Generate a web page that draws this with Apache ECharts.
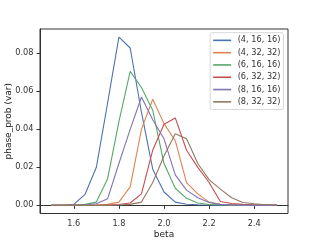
<!DOCTYPE html>
<html><head><meta charset="utf-8">
<script src="https://cdn.jsdelivr.net/npm/echarts@6/dist/echarts.min.js"></script>
<style>html,body{margin:0;padding:0;background:#fff}#c{width:320px;height:240px}</style>
</head><body><div id="c"></div>
<script>
const betas = [1.5,1.55,1.6,1.65,1.7,1.75,1.8,1.85,1.9,1.95,2.0,2.05,2.1,2.15,2.2,2.25,2.3,2.35,2.4,2.45,2.5];
const seriesNames = ['(4, 16, 16)','(4, 32, 32)','(6, 16, 16)','(6, 32, 32)','(8, 16, 16)','(8, 32, 32)'];
const s4_16 = [0,0,0.0005,0.0058,0.020,0.054,0.0885,0.0828,0.049,0.019,0.007,0.0017,0.0006,0.0003,0.0002,0.0001,0.0001,0,0,0,0];
const s4_32 = [0,0,0,0,0.0001,0.0005,0.0017,0.0097,0.040,0.0558,0.043,0.034,0.012,0.006,0.0017,0.0005,0.0003,0.0001,0.0001,0,0];
const s6_16 = [0,0,0.0001,0.0005,0.0017,0.014,0.044,0.0705,0.062,0.050,0.022,0.009,0.0037,0.0012,0.0004,0.0002,0.0001,0,0,0,0];
const s6_32 = [0,0,0,0,0,0.0002,0.0004,0.0012,0.006,0.029,0.0427,0.046,0.029,0.020,0.012,0.002,0.001,0.0005,0.0002,0.0001,0];
const s8_16 = [0,0,0,0.0002,0.0008,0.0035,0.022,0.040,0.057,0.045,0.035,0.016,0.008,0.004,0.0015,0.0005,0.0002,0.0001,0,0,0];
const s8_32 = [0,0,0,0,0,0,0.0002,0.0005,0.0017,0.012,0.026,0.0377,0.035,0.022,0.0135,0.0085,0.004,0.0015,0.0008,0.0003,0.0001];
const xTicks = [1.6,1.8,2.0,2.2,2.4];
const yTicks = [0,0.02,0.04,0.06,0.08];
const allValues = [s4_16,s4_32,s6_16,s6_32,s8_16,s8_32];
const colors = ['#4c72b0','#dd8452','#55a868','#c44e52','#8172b3','#937860'];
const font = 'DejaVu Sans';
const chart = echarts.init(document.getElementById('c'), null, {renderer:'canvas'});
chart.setOption({
  animation:false,
  backgroundColor:'#fff',
  textStyle:{fontFamily:font},
  grid:{left:40,top:29,width:248,height:184.5,show:true,borderColor:'#333',borderWidth:1,backgroundColor:'#fff',
    containLabel:false,outerBoundsMode:'none'},
  xAxis:{type:'value',min:1.45,max:2.55,name:'beta',nameLocation:'middle',nameGap:17,nameMoveOverlap:false,
    nameTextStyle:{fontFamily:font,fontSize:9,color:'#222'},
    axisLine:{show:true,lineStyle:{color:'#333',width:1}},
    splitLine:{show:false},
    axisLabel:{customValues:xTicks,fontFamily:font,fontSize:8.2,color:'#333',margin:6,formatter:v=>v.toFixed(1)},
    axisTick:{show:true,length:3.5,customValues:xTicks,lineStyle:{color:'#333'}}},
  yAxis:{type:'value',min:-0.0043,max:0.0928,name:'phase_prob (var)',nameLocation:'middle',nameGap:27,nameRotate:90,nameMoveOverlap:false,
    nameTextStyle:{fontFamily:font,fontSize:9,color:'#222'},
    axisLine:{show:true,lineStyle:{color:'#333',width:1}},
    splitLine:{show:false},
    axisLabel:{customValues:yTicks,fontFamily:font,fontSize:8.2,color:'#333',margin:6.5,formatter:v=>v.toFixed(2)},
    axisTick:{show:true,length:3.5,customValues:yTicks,lineStyle:{color:'#333'}}},
  legend:{
    orient:'vertical',right:36.5,top:32.7,
    itemWidth:18,itemHeight:1.6,itemGap:0,
    icon:'rect',
    backgroundColor:'rgba(255,255,255,0.8)',borderColor:'#d8d8d8',borderWidth:1,borderRadius:2,
    padding:[1.5,3,1.5,3],
    textStyle:{fontFamily:font,fontSize:8.2,color:'#333',lineHeight:12.3,padding:[0,0,0,1.5]},
    data:seriesNames
  },
  series:seriesNames.map((n,i)=>({
    name:n,type:'line',showSymbol:false,symbol:'none',
    lineStyle:{width:1.1,color:colors[i]},itemStyle:{color:colors[i]},
    data:betas.map((b,j)=>[b,allValues[i][j]])
  }))
});
</script></body></html>
